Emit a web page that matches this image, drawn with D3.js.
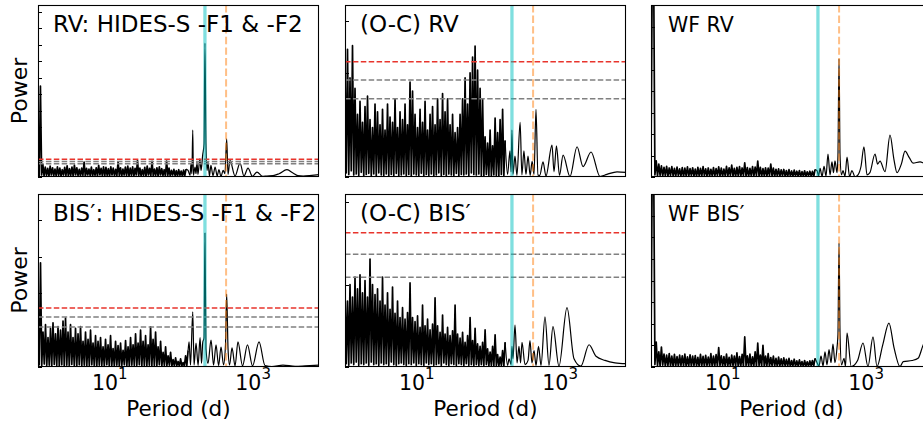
<!DOCTYPE html>
<html><head><meta charset="utf-8">
<script src="https://cdn.jsdelivr.net/npm/d3@7/dist/d3.min.js"></script>
<style>
body{margin:0;background:#fff}
svg{display:block}
text{font-family:"DejaVu Sans",sans-serif;fill:#000}
</style>
</head><body>
<svg id="c" width="923" height="428"></svg>
<script>
// ---------------- DATA (power values in units of 0.001) ----------------
const cyanPeriod = 213;      // days
const orangePeriod = 420;    // days
const noiseStart = 1.0;      // days: start of densely sampled short-period part
const xTickValues = [10, 1000];
const xTickExponents = ["1", "3"];

// RV: HIDES-S -F1 & -F2
const rvTitle = "RV: HIDES-S -F1 & -F2";
const rvNoiseEnd = 116;
const rvNoise = [30,4,275,6,38,3,30,5,26,2,33,6,28,4,24,3,31,5,27,2,22,6,29,4,34,3,25,5,30,2,36,6,28,4,23,3,27,5,45,2,26,6,24,4,30,3,22,5,28,2,35,6,26,4,31,3,29,5,25,2,31,6,27,4,23,3,46,5,28,2,24,6,30,4,33,3,27,5,31,2,26,6,50,4,27,3,22,5,29,2,33,6,26,4,47,3,24,5,28,2,31,6,25,4,22,3,48,5,27,2,20,6,23,4,19,3,22,5,18,2,21,4,24];
const rvTail = [[124,20],[132,5],[136,40],[140,10],[144,142],[147,5],[155,30],[160,10],[165,45],[170,8],[181,55],[188,20],[198,66],[207,100],[213,405],[220,100],[228,20],[235,45],[246,3],[258,35],[276,4],[295,30],[316,3],[333,22],[357,2],[382,20],[405,10],[428,115],[447,8],[476,50],[559,3],[657,42],[746,3],[849,27],[980,2],[1133,15],[1350,2],[1560,3],[1900,4],[2300,10],[2970,22],[3600,12],[4200,4],[5000,3],[6600,5],[8300,7]];
const rvLevels = [54, 47, 40];

// (O-C) RV
const ocRvTitle = "(O-C) RV";
const ocRvNoiseEnd = 171;
const ocRvNoise = [200,8,245,5,190,12,252,4,170,6,120,3,145,9,105,2,135,5,155,7,110,3,95,6,140,2,125,8,100,4,130,3,90,6,140,2,115,5,105,3,150,7,95,2,125,4,110,6,140,3,100,5,182,2,165,6,120,4,95,3,130,7,105,2,145,5,90,3,120,6,135,2,100,4,150,8,110,3,160,5,125,2,150,6,100,4,120,3,85,7,95,2,120,5,150,4,190,6,140,3,200,8,230,5,251,4,205,6,170,3,150,2,77,5,65,3,90,2,60,4,113,3,85,2,110,5,130,3,70];
const ocRvTail = [[185,5],[200,50],[207,10],[213,90],[220,5],[235,40],[250,3],[277,105],[293,4],[313,50],[334,5],[357,40],[382,3],[407,30],[433,5],[461,130],[491,4],[520,3],[578,29],[635,2],[771,61],[822,10],[890,60],[980,3],[1100,42],[1374,1],[1722,58],[2090,20],[2700,48],[3600,1],[4500,5],[6220,10],[8300,9]];
const ocRvLevels = [221, 186, 150];

// WF RV
const wfRvTitle = "WF RV";
const wfRvNoiseEnd = 194;
const wfRvNoise = [70,1000,1000,10,75,5,60,8,52,4,45,6,50,3,42,7,48,5,40,3,46,6,38,4,44,2,41,5,47,3,39,6,43,4,37,2,45,5,40,3,48,6,38,4,42,2,36,5,44,3,39,6,47,4,41,2,37,5,50,3,43,6,55,4,40,2,45,5,48,3,42,6,66,4,44,2,40,5,48,3,46,6,74,4,45,2,39,5,43,3,41,6,60,4,41,2,36,5,38,3,33,6,35,4,30,2,34,5,28,3,32,6,27,4,30,2,25,5,29,3,24,6,27,4,26,2,35];
const wfRvTail = [[207,30],[217,5],[228,40],[243,3],[259,50],[276,4],[294,107],[314,10],[334,70],[351,20],[368,75],[393,20],[405,100],[419,549],[433,100],[454,10],[476,30],[508,3],[542,93],[587,2],[635,30],[700,1],[771,10],[850,50],[933,140],[1030,10],[1130,20],[1331,107],[1450,60],[1563,74],[1836,25],[2155,195],[2450,80],[2700,20],[3100,60],[3490,120],[4000,90],[4510,65],[5650,70],[6800,62],[8300,70]];

// BIS': HIDES-S -F1 & -F2
const bisTitle = "BIS\u2032: HIDES-S -F1 & -F2";
const bisNoiseEnd = 124;
const bisNoise = [110,6,283,4,95,8,115,3,80,5,105,2,120,7,90,4,110,3,100,6,125,2,133,5,95,3,115,7,80,4,105,2,90,6,110,3,70,5,95,2,75,4,100,6,65,3,85,2,70,5,80,4,55,3,75,6,60,2,85,4,50,3,70,5,58,2,65,4,45,6,72,3,55,2,80,5,60,4,90,3,65,6,100,2,70,4,85,3,60,5,109,2,75,4,95,3,55,6,70,2,40,4,55,3,30,5,40,2,20,3,25,4,15,2,22,3,12,2,30,4,45];
const bisTail = [[128,68],[134,5],[144,150],[150,5],[160,65],[171,4],[182,80],[191,10],[198,65],[207,80],[213,364],[220,50],[235,10],[259,73],[281,5],[304,60],[330,4],[357,54],[387,6],[412,60],[428,198],[447,50],[469,5],[508,52],[560,3],[615,68],[712,3],[835,60],[982,3],[1210,68],[1465,4],[1835,1],[2610,5],[3845,2],[5300,3],[8300,5]];
const bisLevels = [160, 136, 109];

// (O-C) BIS'
const ocBisTitle = "(O-C) BIS\u2032";
const ocBisNoiseEnd = 171;
const ocBisNoise = [93,4,80,2,100,5,85,3,109,6,95,2,112,4,90,3,105,5,85,2,131,6,100,3,88,4,95,2,80,5,109,3,75,4,90,2,70,6,97,3,65,2,80,4,60,5,72,3,58,2,66,4,102,3,60,5,55,2,62,4,48,3,75,2,50,5,58,3,45,4,52,2,84,3,50,4,42,2,63,5,40,3,48,2,38,4,44,3,75,2,40,4,35,3,42,2,30,4,38,2,60,3,32,2,47,3,28,2,25,3,30,2,45,3,22,1,18,2,25,1,39,2,15,1,12,2,20,1,30];
const ocBisTail = [[185,2],[194,10],[207,3],[213,25],[220,10],[235,51],[251,5],[267,25],[281,5],[294,30],[324,3],[357,8],[380,32],[405,5],[433,20],[461,2],[500,25],[542,2],[615,61],[700,2],[795,49],[964,1],[1248,72],[1563,10],[1950,1],[2530,27],[3170,13],[4230,8],[5830,5],[8300,4]];
const ocBisLevels = [163, 137, 109];

// WF BIS'
const wfBisTitle = "WF BIS\u2032";
const wfBisNoiseEnd = 194;
const wfBisNoise = [80,1000,1000,12,115,6,70,4,92,8,60,3,55,6,62,4,50,2,58,5,48,3,55,6,52,4,60,2,47,5,56,3,50,6,53,4,45,2,58,5,49,3,54,6,46,4,62,2,50,5,57,3,90,6,52,4,48,2,60,5,45,3,55,6,50,4,65,2,48,5,58,3,139,6,52,4,60,2,47,5,70,3,110,6,55,4,100,2,50,5,62,3,44,6,50,4,40,2,46,5,38,3,42,6,35,4,40,2,30,5,36,3,28,6,33,4,25,2,30,5,24,3,28,6,30,4,40];
const wfBisTail = [[207,20],[220,4],[235,50],[251,5],[267,70],[285,10],[304,80],[324,20],[345,106],[368,20],[393,90],[405,150],[419,573],[433,150],[454,10],[492,40],[516,2],[542,157],[620,2],[760,30],[906,111],[1062,2],[1248,139],[1419,2],[1700,100],[2085,203],[2450,90],[2972,2],[3300,25],[4370,30],[5300,40],[6220,100],[8300,170]];

// ---------------- LAYOUT ----------------
const svg = d3.select("#c");
const xDomain = [1, 8300];
const cols = [38, 345, 651], colW = 281;
const rows = [{y: 5, h: 172}, {y: 194, h: 173}];

const panels = [
  {c:0, r:0, noise:rvNoise, end:rvNoiseEnd, tail:rvTail, levels:rvLevels, title:rvTitle, fs:23, ymax:0.52, step:0.05},
  {c:1, r:0, noise:ocRvNoise, end:ocRvNoiseEnd, tail:ocRvTail, levels:ocRvLevels, title:ocRvTitle, fs:23, ymax:0.33, step:0.1},
  {c:2, r:0, noise:wfRvNoise, end:wfRvNoiseEnd, tail:wfRvTail, levels:null, title:wfRvTitle, fs:20.5, ymax:0.8, step:0.1},
  {c:0, r:1, noise:bisNoise, end:bisNoiseEnd, tail:bisTail, levels:bisLevels, title:bisTitle, fs:23, ymax:0.47, step:0.1},
  {c:1, r:1, noise:ocBisNoise, end:ocBisNoiseEnd, tail:ocBisTail, levels:ocBisLevels, title:ocBisTitle, fs:23, ymax:0.21, step:0.1},
  {c:2, r:1, noise:wfBisNoise, end:wfBisNoiseEnd, tail:wfBisTail, levels:null, title:wfBisTitle, fs:20.5, ymax:0.8, step:0.1}
];

const defs = svg.append("defs");

panels.forEach((p, pi) => {
  const x0 = cols[p.c], y0 = rows[p.r].y, h = rows[p.r].h;
  const x = d3.scaleLog().domain(xDomain).range([x0, x0 + colW]);
  const y = d3.scaleLinear().domain([0, p.ymax]).range([y0 + h, y0]);
  const cid = "clip" + pi;
  defs.append("clipPath").attr("id", cid).append("rect")
    .attr("x", x0).attr("y", y0).attr("width", colW).attr("height", h);
  const g = svg.append("g");
  const gc = g.append("g").attr("clip-path", `url(#${cid})`);

  const n = p.noise.length;
  const l0 = Math.log10(noiseStart), l1 = Math.log10(p.end);
  const noisePts = p.noise.map((v, i) => [Math.pow(10, l0 + (l1 - l0) * i / (n - 1)), v / 1000]);
  const tailPts = [noisePts[n - 1]].concat(p.tail.map(d => [d[0], d[1] / 1000]));
  const lineLin = d3.line().x(d => x(d[0])).y(d => y(d[1]));
  const lineSmooth = d3.line().x(d => x(d[0])).y(d => y(d[1])).curve(d3.curveMonotoneX);
  // dense short-period part
  gc.append("path").attr("d", lineLin(noisePts)).attr("fill", "none")
    .attr("stroke", "#000").attr("stroke-width", 1.7).attr("stroke-linejoin", "round");
  // long-period part
  gc.append("path").attr("d", lineSmooth(tailPts)).attr("fill", "none")
    .attr("stroke", "#000").attr("stroke-width", 1.2).attr("stroke-linejoin", "round");

  if (p.levels) {
    p.levels.forEach((lv, i) => {
      gc.append("line").attr("x1", x0).attr("x2", x0 + colW)
        .attr("y1", y(lv / 1000)).attr("y2", y(lv / 1000))
        .attr("stroke", i === 0 ? "#e8342c" : "#808080")
        .attr("stroke-width", 1.5).attr("stroke-dasharray", "5.5,2.4");
    });
  }
  // vertical markers
  gc.append("line").attr("x1", x(cyanPeriod)).attr("x2", x(cyanPeriod))
    .attr("y1", y0).attr("y2", y0 + h)
    .attr("stroke", "#00bfbf").attr("stroke-opacity", 0.5).attr("stroke-width", 3.3);
  gc.append("line").attr("x1", x(orangePeriod)).attr("x2", x(orangePeriod))
    .attr("y1", y0).attr("y2", y0 + h)
    .attr("stroke", "#ff7f0e").attr("stroke-opacity", 0.5).attr("stroke-width", 2)
    .attr("stroke-dasharray", "7.4,3.2");

  // y ticks (inward, no labels)
  d3.range(0, p.ymax + 1e-9, p.step).forEach(t => {
    const yy = Math.round(y(t)) + 0.5;
    g.append("line").attr("x1", x0).attr("x2", x0 + 4).attr("y1", yy).attr("y2", yy)
      .attr("stroke", "#000").attr("stroke-width", 1);
  });

  // frame
  g.append("rect").attr("x", x0 + 0.5).attr("y", y0 + 0.5).attr("width", colW - 1).attr("height", h - 1)
    .attr("fill", "none").attr("stroke", "#000").attr("stroke-width", 1.1);

  // title
  g.append("text").attr("x", x0 + (p.fs > 21 ? 15 : 17)).attr("y", y0 + 27)
    .attr("font-size", p.fs).text(p.title);

  // x tick labels and label on bottom row
  if (p.r === 1) {
    xTickValues.forEach((tv, i) => {
      const t = g.append("text").attr("x", x(tv)).attr("y", 390)
        .attr("text-anchor", "middle").attr("font-size", 20.5);
      t.append("tspan").text("10");
      t.append("tspan").attr("dy", -11).attr("font-size", 15).text(xTickExponents[i]);
    });
    g.append("text").attr("x", x0 + colW / 2).attr("y", 416).attr("text-anchor", "middle")
      .attr("font-size", 21.5).text("Period (d)");
  }
  if (p.c === 0) {
    const cy = y0 + h / 2;
    g.append("text").attr("transform", `translate(27,${cy}) rotate(-90)`)
      .attr("text-anchor", "middle").attr("font-size", 22).text("Power");
  }
});
</script>
</body></html>
